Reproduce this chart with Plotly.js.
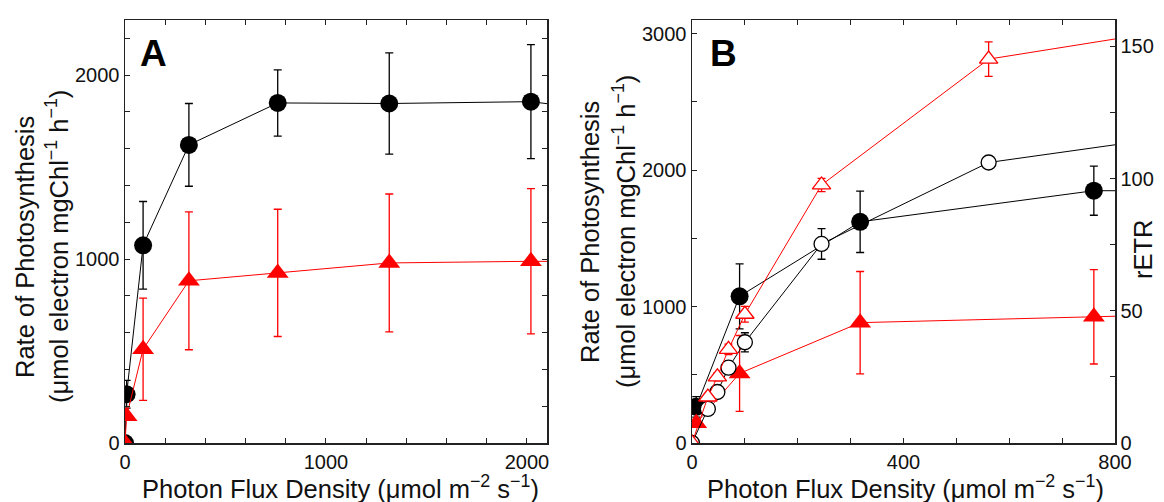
<!DOCTYPE html>
<html>
<head>
<meta charset="utf-8">
<script src="https://cdn.plot.ly/plotly-3.0.1.min.js"></script>
<style>html,body{margin:0;padding:0;background:#fff;}#chart{width:1164px;height:502px;}</style>
</head>
<body>
<div id="chart"></div>
<script>
// Panel A / B photosynthesis (left axis)
const pfd = [0, 8, 90, 318, 760, 1315, 2020, 2500];
const photoBlack = [0, 265, 1075, 1621, 1849, 1846, 1856, 1790];
const photoBlackErr = [0, 75, 238, 225, 180, 275, 310, 0];
const photoRed = [0, 145, 510, 882, 925, 979, 988, 985];
const photoRedErr = [0, 20, 278, 375, 346, 375, 395, 0];
// Panel B rETR (right axis)
const pfdETR = [0, 30, 48, 69, 100, 245, 561, 1000];
const rETRBlack = [0, 12.9, 19.3, 28.5, 38.1, 75.3, 106.1, 118.4];
const rETRBlackErr = [0, 1, 1, 1.5, 3.6, 5.8, 1, 0];
const rETRRed = [0, 17.4, 25, 35.4, 48.7, 97.6, 145.2, 159.2];
const rETRRedErr = [0, 1, 1.5, 2, 3, 2.5, 6.5, 0];
// tick settings
const xTicksA = [0, 1000, 2000];
const yTicksA = [0, 1000, 2000];
const xTicksB = [0, 400, 800];
const yTicksB = [0, 1000, 2000, 3000];
const yTicksETR = [0, 50, 100, 150];

const RED = 'rgb(255,0,0)';
const FONT = 'Arial, "Liberation Sans", sans-serif';
const W = 1164, H = 502;
const px = v => v / W, py = v => 1 - v / H;

function filled(x, y, err, color, symbol, size, xa, ya) {
  return {x, y, xaxis: xa, yaxis: ya, type: 'scatter', mode: 'lines+markers',
    line: {color, width: 1},
    marker: {color, symbol, size, line: {width: 0}},
    error_y: {type: 'data', array: err, visible: true, color, thickness: 1.3, width: 4},
    cliponaxis: true, showlegend: false};
}
function open(x, y, err, color, symbol, size, xa, ya) {
  return {x, y, xaxis: xa, yaxis: ya, type: 'scatter', mode: 'lines+markers',
    line: {color, width: 1},
    marker: {color: 'white', symbol, size, line: {color, width: 1.3}},
    error_y: {type: 'data', array: err, visible: true, color, thickness: 1.3, width: 4},
    cliponaxis: true, showlegend: false};
}

const data = [
  filled(pfd, photoBlack, photoBlackErr, 'black', 'circle', 18, 'x', 'y'),
  filled(pfd, photoRed, photoRedErr, RED, 'triangle-up', 19, 'x', 'y'),
  filled(pfd.slice(1), photoBlack.slice(1), photoBlackErr.slice(1), 'black', 'circle', 18, 'x2', 'y2'),
  filled(pfd.slice(1), photoRed.slice(1), photoRedErr.slice(1), RED, 'triangle-up', 19, 'x2', 'y2'),
  open(pfdETR, rETRBlack, rETRBlackErr, 'black', 'circle', 15, 'x2', 'y3'),
  open(pfdETR, rETRRed, rETRRedErr, RED, 'triangle-up', 16, 'x2', 'y3')
];

function axis(extra) {
  return Object.assign({
    showline: true, linecolor: '#222', linewidth: 1.5, mirror: 'ticks',
    ticks: 'inside', ticklen: 5, tickwidth: 1, tickcolor: '#222',
    showgrid: false, zeroline: false, tickmode: 'array',
    tickfont: {family: FONT, size: 20, color: '#111'},
    fixedrange: true
  }, extra);
}
function ann(text, x, y, size, angle, bold) {
  return {text: bold ? '<b>' + text + '</b>' : text, x: px(x), y: py(y), xref: 'paper', yref: 'paper',
    xanchor: 'center', yanchor: 'middle', showarrow: false, textangle: angle || 0,
    font: {family: FONT, size, color: bold ? 'black' : '#111'}};
}

const yDom = [py(443), py(20)];
const minorStyle = {ticks: 'inside', ticklen: 5, tickcolor: '#222', showgrid: false, tick0: 0};
const TS = 25.5;
const layout = {
  width: W, height: H,
  margin: {l: 0, r: 0, t: 0, b: 0},
  paper_bgcolor: 'white', plot_bgcolor: 'white',
  showlegend: false,
  xaxis: axis({domain: [px(125), px(547)], range: [0, 2100], tickvals: xTicksA,
    minor: Object.assign({dtick: 200}, minorStyle), anchor: 'y'}),
  yaxis: axis({domain: yDom, range: [0, 2300], tickvals: yTicksA,
    minor: Object.assign({dtick: 200}, minorStyle), anchor: 'x'}),
  xaxis2: axis({domain: [px(692), px(1115)], range: [0, 800], tickvals: xTicksB,
    minor: Object.assign({dtick: 100}, minorStyle), anchor: 'y2'}),
  yaxis2: axis({domain: yDom, range: [0, 3100], tickvals: yTicksB, mirror: false,
    minor: Object.assign({dtick: 500}, minorStyle), anchor: 'x2'}),
  yaxis3: axis({domain: yDom, range: [0, 160], tickvals: yTicksETR, mirror: false,
    overlaying: 'y2', side: 'right', anchor: 'x2',
    minor: Object.assign({dtick: 25}, minorStyle)}),
  annotations: [
    ann('A', 153, 53, 37, 0, true),
    ann('B', 723, 53, 37, 0, true),
    ann('Rate of Photosynthesis', 25, 247, TS, -90),
    ann('(μmol electron mgChl<sup>−1</sup> h<sup>−1</sup>)', 57, 247, TS, -90),
    ann('Rate of Photosynthesis', 590, 232, TS, -90),
    ann('(μmol electron mgChl<sup>−1</sup> h<sup>−1</sup>)', 624, 232, TS, -90),
    ann('rETR', 1143, 249, TS, -90),
    ann('Photon Flux Density (μmol m<sup>−2</sup> s<sup>−1</sup>)', 340, 487, TS, 0),
    ann('Photon Flux Density (μmol m<sup>−2</sup> s<sup>−1</sup>)', 905, 487, TS, 0)
  ]
};

Plotly.newPlot('chart', data, layout, {staticPlot: true, displayModeBar: false});
</script>
</body>
</html>
